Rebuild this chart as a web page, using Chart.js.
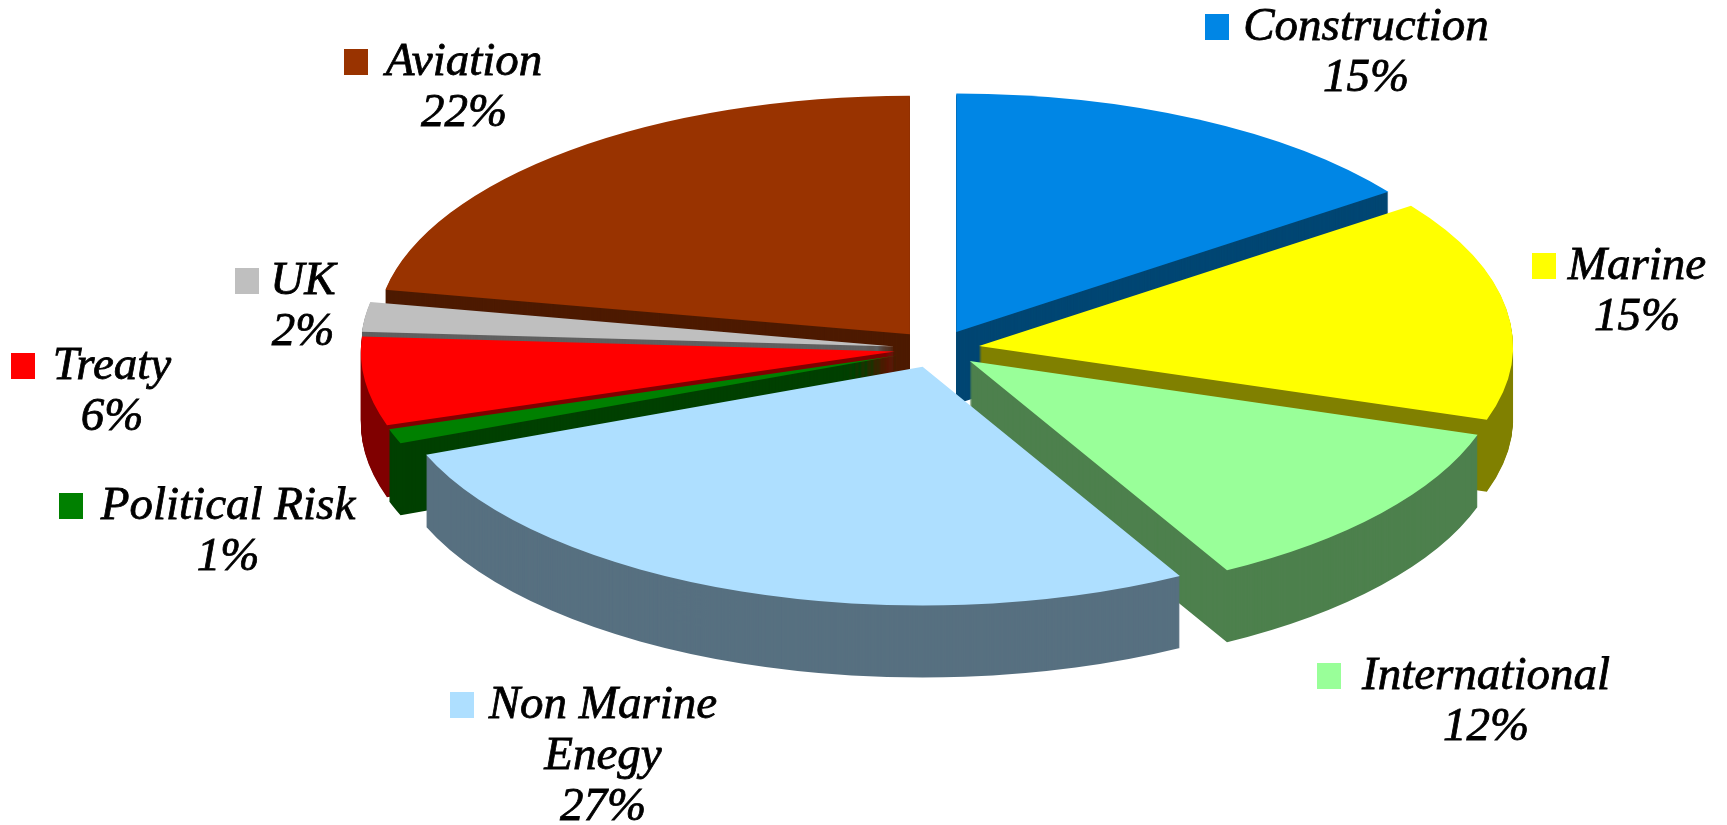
<!DOCTYPE html>
<html>
<head>
<meta charset="utf-8">
<title>Premium by class</title>
<script src="https://cdn.jsdelivr.net/npm/chart.js@4"></script>
<style>
    html, body { margin: 0; padding: 0; background: #fff; }
    canvas { display: block; }
</style>
</head>
<body>
<canvas id="pieChart" width="1727" height="825"></canvas>
<script>
// values, clockwise from 12 o'clock
const categories = ['Construction', 'Marine', 'International', ['Non Marine', 'Enegy'], 'Political Risk', 'Treaty', 'UK', 'Aviation'];
const shares = [15, 15, 12, 27, 1, 6, 2, 22];

const topColors = ['#0086E5', '#FFFF00', '#99FF99', '#AEDFFF', '#008000', '#FF0000', '#BFBFBF', '#993300'];
const wallColors = ['#004673', '#808000', '#4D804D', '#577080', '#004000', '#800000', '#606060', '#4D1A00'];

// back to front, so the nearer slices hide the walls behind them
const drawOrder = [7, 0, 6, 1, 5, 4, 2, 3];

// label placement: swatch left, centre of the text, first baseline
const labelSwatchX = [1205, 1532, 1317, 450, 59, 11, 235, 344];
const labelCenterX = [1366, 1637, 1486, 603, 228, 112, 303, 464];
const labelBaseY = [40, 279, 689, 718, 519, 379, 294, 75];

const squash = 0.447;
const explode = 42.5;
const wallDepth = 72;
const labelFont = "italic 47px 'Liberation Serif'";
const lineGap = 51;

// Chart.js has no 3D pie, so squash the arcs and stack them for the walls
const tiltedPie = {
    id: 'tiltedPie',
    beforeDatasetsDraw(chart) {
        const ctx = chart.ctx;
        const arcs = chart.getDatasetMeta(0).data;

        const paint = (arc, color, dy) => {
            const mid = (arc.startAngle + arc.endAngle) / 2;
            const saved = arc.options;
            arc.options = Object.assign({}, saved, { backgroundColor: color, borderWidth: 0 });
            ctx.save();
            ctx.translate(0, arc.y + dy);
            ctx.scale(1, squash);
            ctx.translate(0, -arc.y);
            ctx.translate(Math.cos(mid) * explode, Math.sin(mid) * explode);
            arc.draw(ctx);
            ctx.restore();
            arc.options = saved;
        };

        drawOrder.forEach(i => {
            for (let d = wallDepth; d > 0; d--) {
                paint(arcs[i], wallColors[i], d);
            }
            paint(arcs[i], topColors[i], 0);
        });
        return false;
    },
    afterDraw(chart) {
        const ctx = chart.ctx;
        ctx.save();
        ctx.font = labelFont;
        ctx.textAlign = 'center';
        ctx.textBaseline = 'alphabetic';
        ctx.lineWidth = 0.8;
        ctx.strokeStyle = '#000';
        categories.forEach((name, i) => {
            const lines = [].concat(name, shares[i] + '%');
            ctx.fillStyle = topColors[i];
            ctx.fillRect(labelSwatchX[i], labelBaseY[i] - 26, 24, 26);
            ctx.fillStyle = '#000';
            lines.forEach((line, n) => {
                ctx.fillText(line, labelCenterX[i], labelBaseY[i] + n * lineGap);
                ctx.strokeText(line, labelCenterX[i], labelBaseY[i] + n * lineGap);
            });
        });
        ctx.restore();
    }
};

new Chart(document.getElementById('pieChart'), {
    type: 'pie',
    data: {
        labels: categories,
        datasets: [{
            data: shares,
            backgroundColor: topColors,
            borderWidth: 0,
            radius: 534
        }]
    },
    options: {
        responsive: false,
        animation: false,
        layout: { padding: { left: 147, bottom: 127 } },
        plugins: {
            legend: { display: false },
            tooltip: { enabled: false }
        }
    },
    plugins: [tiltedPie]
});
</script>
</body>
</html>
